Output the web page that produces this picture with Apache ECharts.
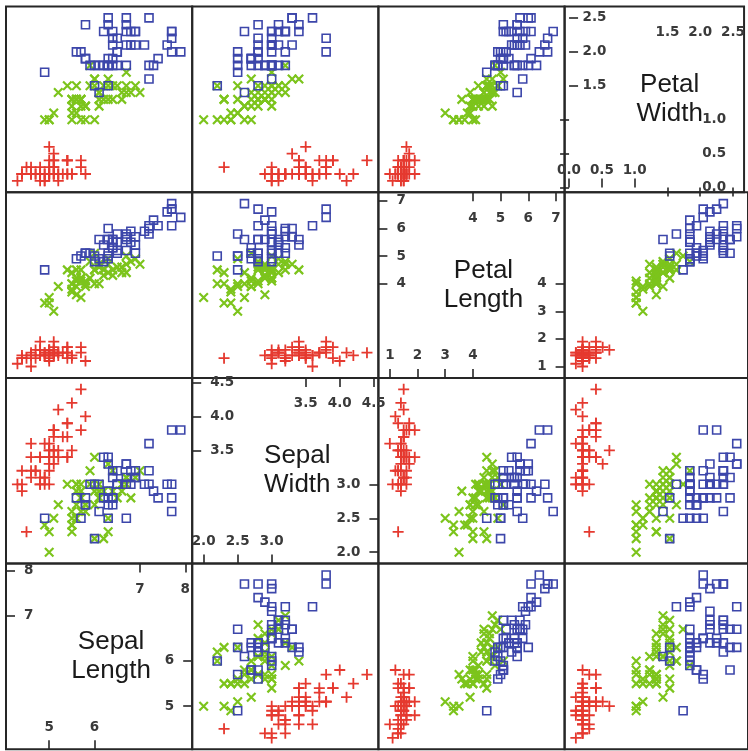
<!DOCTYPE html>
<html>
<head>
<meta charset="utf-8">
<script src="https://cdn.jsdelivr.net/npm/echarts@6/dist/echarts.min.js"></script>
<style>
html,body{margin:0;padding:0;background:#fff;}
#chart{width:748px;height:751px;}
</style>
</head>
<body>
<div id="chart"></div>
<script>
// Iris data (Sepal Length, Sepal Width, Petal Length, Petal Width) per species
const setosaSL = [5.1,4.9,4.7,4.6,5.0,5.4,4.6,5.0,4.4,4.9,5.4,4.8,4.8,4.3,5.8,5.7,5.4,5.1,5.7,5.1,5.4,5.1,4.6,5.1,4.8,5.0,5.0,5.2,5.2,4.7,4.8,5.4,5.2,5.5,4.9,5.0,5.5,4.9,4.4,5.1,5.0,4.5,4.4,5.0,5.1,4.8,5.1,4.6,5.3,5.0];
const setosaSW = [3.5,3.0,3.2,3.1,3.6,3.9,3.4,3.4,2.9,3.1,3.7,3.4,3.0,3.0,4.0,4.4,3.9,3.5,3.8,3.8,3.4,3.7,3.6,3.3,3.4,3.0,3.4,3.5,3.4,3.2,3.1,3.4,4.1,4.2,3.1,3.2,3.5,3.6,3.0,3.4,3.5,2.3,3.2,3.5,3.8,3.0,3.8,3.2,3.7,3.3];
const setosaPL = [1.4,1.4,1.3,1.5,1.4,1.7,1.4,1.5,1.4,1.5,1.5,1.6,1.4,1.1,1.2,1.5,1.3,1.4,1.7,1.5,1.7,1.5,1.0,1.7,1.9,1.6,1.6,1.5,1.4,1.6,1.6,1.5,1.5,1.4,1.5,1.2,1.3,1.4,1.3,1.5,1.3,1.3,1.3,1.6,1.9,1.4,1.6,1.4,1.5,1.4];
const setosaPW = [0.2,0.2,0.2,0.2,0.2,0.4,0.3,0.2,0.2,0.1,0.2,0.2,0.1,0.1,0.2,0.4,0.4,0.3,0.3,0.3,0.2,0.4,0.2,0.5,0.2,0.2,0.4,0.2,0.2,0.2,0.2,0.4,0.1,0.2,0.2,0.2,0.2,0.1,0.2,0.2,0.3,0.3,0.2,0.6,0.4,0.3,0.2,0.2,0.2,0.2];

const versicolorSL = [7.0,6.4,6.9,5.5,6.5,5.7,6.3,4.9,6.6,5.2,5.0,5.9,6.0,6.1,5.6,6.7,5.6,5.8,6.2,5.6,5.9,6.1,6.3,6.1,6.4,6.6,6.8,6.7,6.0,5.7,5.5,5.5,5.8,6.0,5.4,6.0,6.7,6.3,5.6,5.5,5.5,6.1,5.8,5.0,5.6,5.7,5.7,6.2,5.1,5.7];
const versicolorSW = [3.2,3.2,3.1,2.3,2.8,2.8,3.3,2.4,2.9,2.7,2.0,3.0,2.2,2.9,2.9,3.1,3.0,2.7,2.2,2.5,3.2,2.8,2.5,2.8,2.9,3.0,2.8,3.0,2.9,2.6,2.4,2.4,2.7,2.7,3.0,3.4,3.1,2.3,3.0,2.5,2.6,3.0,2.6,2.3,2.7,3.0,2.9,2.9,2.5,2.8];
const versicolorPL = [4.7,4.5,4.9,4.0,4.6,4.5,4.7,3.3,4.6,3.9,3.5,4.2,4.0,4.7,3.6,4.4,4.5,4.1,4.5,3.9,4.8,4.0,4.9,4.7,4.3,4.4,4.8,5.0,4.5,3.5,3.8,3.7,3.9,5.1,4.5,4.5,4.7,4.4,4.1,4.0,4.4,4.6,4.0,3.3,4.2,4.2,4.2,4.3,3.0,4.1];
const versicolorPW = [1.4,1.5,1.5,1.3,1.5,1.3,1.6,1.0,1.3,1.4,1.0,1.5,1.0,1.4,1.3,1.4,1.5,1.0,1.5,1.1,1.8,1.3,1.5,1.2,1.3,1.4,1.4,1.7,1.5,1.0,1.1,1.0,1.2,1.6,1.5,1.6,1.5,1.3,1.3,1.3,1.2,1.4,1.2,1.0,1.3,1.2,1.3,1.3,1.1,1.3];

const virginicaSL = [6.3,5.8,7.1,6.3,6.5,7.6,4.9,7.3,6.7,7.2,6.5,6.4,6.8,5.7,5.8,6.4,6.5,7.7,7.7,6.0,6.9,5.6,7.7,6.3,6.7,7.2,6.2,6.1,6.4,7.2,7.4,7.9,6.4,6.3,6.1,7.7,6.3,6.4,6.0,6.9,6.7,6.9,5.8,6.8,6.7,6.7,6.3,6.5,6.2,5.9];
const virginicaSW = [3.3,2.7,3.0,2.9,3.0,3.0,2.5,2.9,2.5,3.6,3.2,2.7,3.0,2.5,2.8,3.2,3.0,3.8,2.6,2.2,3.2,2.8,2.8,2.7,3.3,3.2,2.8,3.0,2.8,3.0,2.8,3.8,2.8,2.8,2.6,3.0,3.4,3.1,3.0,3.1,3.1,3.1,2.7,3.2,3.3,3.0,2.5,3.0,3.4,3.0];
const virginicaPL = [6.0,5.1,5.9,5.6,5.8,6.6,4.5,6.3,5.8,6.1,5.1,5.3,5.5,5.0,5.1,5.3,5.5,6.7,6.9,5.0,5.7,4.9,6.7,4.9,5.7,6.0,4.8,4.9,5.6,5.8,6.1,6.4,5.6,5.1,5.6,6.1,5.6,5.5,4.8,5.4,5.6,5.1,5.1,5.9,5.7,5.2,5.0,5.2,5.4,5.1];
const virginicaPW = [2.5,1.9,2.1,1.8,2.2,2.1,1.7,1.8,1.8,2.5,2.0,1.9,2.1,2.0,2.4,2.3,1.8,2.2,2.3,1.5,2.3,2.0,2.0,1.8,2.1,1.8,1.8,1.8,2.1,1.6,1.9,2.0,2.2,1.5,1.4,2.3,2.4,1.8,1.8,2.1,2.4,2.3,1.9,2.3,2.5,2.3,1.9,2.0,2.3,1.8];

const variableNames = ['Sepal\nLength', 'Sepal\nWidth', 'Petal\nLength', 'Petal\nWidth'];
const lowTicks  = [[5, 6], [2.0, 2.5, 3.0], [1, 2, 3, 4], [0.0, 0.5, 1.0]];
const highTicks = [[7, 8], [3.5, 4.0, 4.5], [4, 5, 6, 7], [1.5, 2.0, 2.5]];
const tickDecimals = [0, 1, 0, 1];

const species = [
  { name: 'setosa', cols: [setosaSL, setosaSW, setosaPL, setosaPW] },
  { name: 'versicolor', cols: [versicolorSL, versicolorSW, versicolorPL, versicolorPW] },
  { name: 'virginica', cols: [virginicaSL, virginicaSW, virginicaPL, virginicaPW] }
];

// styles
const speciesStyle = [
  { symbol: 'path://M0,5L10,5M5,0L5,10', size: 11, color: '#E5392F', width: 1.8 },
  { symbol: 'path://M0,0L10,10M10,0L0,10', size: 8.5, color: '#7CC41C', width: 2.2 },
  { symbol: 'rect', size: 8, color: '#3C46AA', width: 1.6 }
];

const LEFT = 6, TOP = 6.5, PW = 186.2, PH = 185.7;
const lineColor = '#262626';
const labelFont = { fontFamily: 'DejaVu Sans', fontSize: 13.5, fontWeight: 'bold', color: '#3a3a3a' };

// axis ranges with 7% padding
const ranges = [0, 1, 2, 3].map(v => {
  let all = [];
  species.forEach(s => { all = all.concat(s.cols[v]); });
  const mn = Math.min(...all), mx = Math.max(...all);
  const pad = 0.07 * (mx - mn);
  return [mn - pad, mx + pad];
});

const grids = [], xAxes = [], yAxes = [], series = [], graphics = [];

function hiddenAxis(gi, v) {
  return {
    gridIndex: gi, type: 'value', min: ranges[v][0], max: ranges[v][1],
    axisLine: { show: false }, axisTick: { show: false }, axisLabel: { show: false },
    splitLine: { show: false }
  };
}
function tickAxis(gi, v, position, ticks, margin) {
  return {
    gridIndex: gi, type: 'value', position: position, min: ranges[v][0], max: ranges[v][1],
    axisLine: { show: false },
    axisTick: { show: true, inside: true, length: 9, customValues: ticks,
      lineStyle: { color: lineColor, width: 1.6 } },
    axisLabel: Object.assign({ show: true, inside: true, margin: margin, customValues: ticks,
      formatter: val => Number(val).toFixed(tickDecimals[v]) }, labelFont),
    splitLine: { show: false }
  };
}

for (let r = 0; r < 4; r++) {
  for (let c = 0; c < 4; c++) {
    const gi = grids.length;
    const rowVar = 3 - r, colVar = c;
    grids.push({
      left: LEFT + c * PW, top: TOP + r * PH, width: PW, height: PH,
      show: true, borderColor: lineColor, borderWidth: 2, backgroundColor: 'transparent'
    });
    if (rowVar === colVar) {
      const v = colVar;
      xAxes.push(tickAxis(gi, v, 'bottom', lowTicks[v], 15));
      xAxes.push(tickAxis(gi, v, 'top', highTicks[v], 19));
      yAxes.push(tickAxis(gi, v, 'left', highTicks[v], 18));
      yAxes.push(tickAxis(gi, v, 'right', lowTicks[v], 18));
      graphics.push({
        type: 'text',
        x: LEFT + c * PW + PW / 2 + 12,
        y: TOP + r * PH + PH / 2,
        style: {
          text: variableNames[v], fill: '#1a1a1a',
          font: '26px "Liberation Sans"', lineHeight: 29,
          align: 'center', verticalAlign: 'middle'
        }
      });
    } else {
      xAxes.push(hiddenAxis(gi, colVar));
      const xi = xAxes.length - 1;
      yAxes.push(hiddenAxis(gi, rowVar));
      const yi = yAxes.length - 1;
      species.forEach((s, k) => {
        const st = speciesStyle[k];
        series.push({
          type: 'scatter', name: s.name, xAxisIndex: xi, yAxisIndex: yi,
          symbol: st.symbol, symbolSize: st.size, silent: true,
          itemStyle: { color: 'none', borderColor: st.color, borderWidth: st.width, opacity: 1 },
          emphasis: { disabled: true },
          data: s.cols[colVar].map((x, i) => [x, s.cols[rowVar][i]])
        });
      });
    }
  }
}

const chart = echarts.init(document.getElementById('chart'), null, { renderer: 'canvas' });
chart.setOption({
  animation: false,
  backgroundColor: '#fff',
  grid: grids,
  xAxis: xAxes,
  yAxis: yAxes,
  series: series,
  graphic: graphics
});
</script>
</body>
</html>
